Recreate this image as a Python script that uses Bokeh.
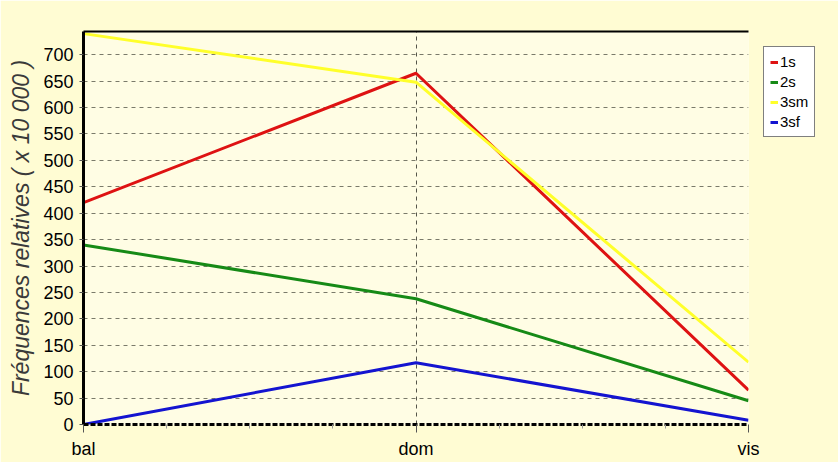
from bokeh.plotting import figure
from bokeh.models import FixedTicker, Legend, LegendItem, LinearAxis, Range1d
from bokeh.embed import file_html
from bokeh.resources import INLINE

categories = ["bal", "dom", "vis"]
s_1s = [420, 665, 65]
s_2s = [340, 238, 45]
s_3sm = [740, 648, 118]
s_3sf = [0, 117, 8]
series_names = ["1s", "2s", "3sm", "3sf"]
series_colors = ["#DE1212", "#168A16", "#FFFF2A", "#1414D0"]
y_ticks = list(range(0, 701, 50))

xs = list(range(len(categories)))

p = figure(frame_width=665, frame_height=393, output_backend="svg", toolbar_location=None,
           x_range=Range1d(0, len(categories) - 1), y_range=Range1d(0, 744),
           min_border_left=83, min_border_right=82, min_border_top=31, min_border_bottom=38)
p.background_fill_color = "#FFFDE4"
p.border_fill_color = "#FFFCD3"
p.outline_line_color = None

renderers = []
for name, vals, col in zip(series_names, [s_1s, s_2s, s_3sm, s_3sf], series_colors):
    r = p.line(xs, vals, line_color=col, line_width=3)
    renderers.append((name, r))

# grids
p.ygrid.ticker = FixedTicker(ticks=y_ticks)
p.ygrid.grid_line_color = "#7A7A6A"
p.ygrid.grid_line_dash = "4 4"
p.ygrid.grid_line_width = 1
p.xgrid.ticker = FixedTicker(ticks=xs[1:])
p.xgrid.grid_line_color = "#55554A"
p.xgrid.grid_line_dash = "4 4"
p.xgrid.grid_line_width = 1

# x axis
minor = [i + f for i in xs[:-1] for f in (0.25, 0.5, 0.75)]
p.xaxis.ticker = FixedTicker(ticks=xs, minor_ticks=minor)
p.xaxis.major_label_overrides = {i: c for i, c in zip(xs, categories)}
p.xaxis.axis_line_color = "black"
p.xaxis.axis_line_width = 3
p.xaxis.axis_line_dash = "5 2"
p.xaxis.major_tick_line_color = "#555555"
p.xaxis.major_tick_out = 8
p.xaxis.major_tick_in = 0
p.xaxis.minor_tick_line_color = "#999999"
p.xaxis.minor_tick_out = 4
p.xaxis.minor_tick_in = 0
p.xaxis.major_label_text_font = "Liberation Sans"
p.xaxis.major_label_text_font_size = "18px"
p.xaxis.major_label_text_color = "black"
p.xaxis.major_label_standoff = 6

# y axis
p.yaxis.ticker = FixedTicker(ticks=y_ticks)
p.yaxis.minor_tick_line_color = None
p.yaxis.axis_line_color = "black"
p.yaxis.axis_line_width = 3
p.yaxis.major_tick_line_color = "#555555"
p.yaxis.major_tick_out = 4
p.yaxis.major_tick_in = 0
p.yaxis.major_label_standoff = 6
p.yaxis.major_label_text_font = "Liberation Sans"
p.yaxis.major_label_text_font_size = "18px"
p.yaxis.major_label_text_color = "black"
p.yaxis.axis_label = "Fréquences relatives ( x 10 000 )"
p.yaxis.axis_label_text_font = "Liberation Sans"
p.yaxis.axis_label_text_font_style = "italic"
p.yaxis.axis_label_text_font_size = "23px"
p.yaxis.axis_label_text_color = "#3A3A3A"
p.yaxis.axis_label_standoff = 6

# top border line
top = LinearAxis(ticker=FixedTicker(ticks=[]), axis_line_color="black", axis_line_width=2,
                 major_label_text_font_size="0px", major_tick_line_color=None,
                 minor_tick_line_color=None)
p.add_layout(top, "above")

legend = Legend(items=[LegendItem(label=n, renderers=[r]) for n, r in renderers],
                location="top_left", orientation="vertical")
legend.background_fill_color = "white"
legend.background_fill_alpha = 1
legend.border_line_color = "black"
legend.border_line_width = 1
legend.label_text_font = "Liberation Sans"
legend.label_text_font_size = "15px"
legend.label_text_color = "black"
legend.glyph_width = 8
legend.glyph_height = 16
legend.label_height = 16
legend.label_standoff = 2
legend.spacing = 3
legend.padding = 6
legend.margin = 15
p.add_layout(legend, "right")

open("out.html", "w").write(file_html(p, INLINE))
